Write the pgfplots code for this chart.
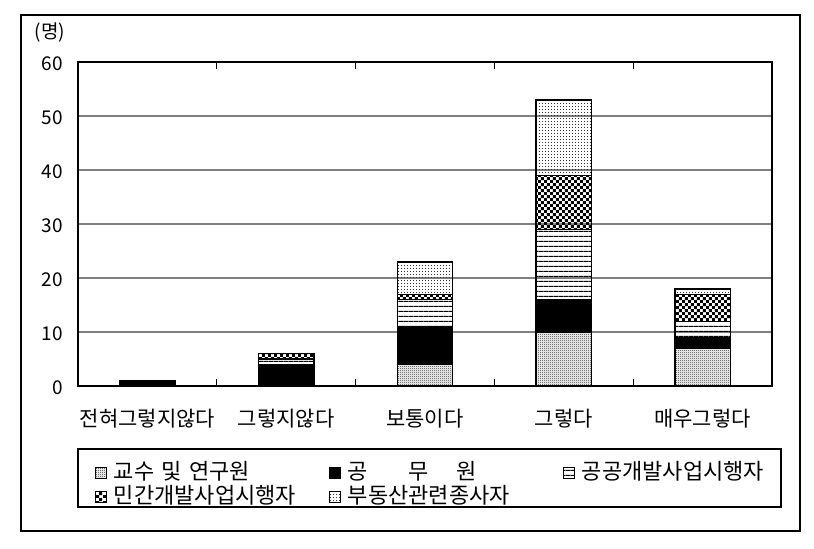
\documentclass[border=0pt]{standalone}
\usepackage{fontspec}
\setmainfont{Noto Sans CJK KR}
\usepackage{pgfplots}
\pgfplotsset{compat=1.18}
\usetikzlibrary{patterns}
\pgfdeclarepatternformonly{mygray}{\pgfpointorigin}{\pgfpoint{1pt}{1pt}}{\pgfpoint{1pt}{1pt}}{%
  \pgfpathrectangle{\pgfpointorigin}{\pgfpoint{0.5pt}{0.5pt}}%
  \pgfpathrectangle{\pgfpoint{0.5pt}{0.5pt}}{\pgfpoint{0.5pt}{0.5pt}}%
  \pgfusepath{fill}}
\pgfdeclarepatternformonly{mylines}{\pgfpointorigin}{\pgfpoint{2.6pt}{2.6pt}}{\pgfpoint{2.6pt}{2.6pt}}{%
  \pgfpathrectangle{\pgfpointorigin}{\pgfpoint{2.6pt}{0.7pt}}%
  \pgfusepath{fill}}
\pgfdeclarepatternformonly{mycheck}{\pgfpointorigin}{\pgfpoint{3.2pt}{3.2pt}}{\pgfpoint{3.2pt}{3.2pt}}{%
  \pgfpathrectangle{\pgfpointorigin}{\pgfpoint{1.6pt}{1.6pt}}%
  \pgfpathrectangle{\pgfpoint{1.6pt}{1.6pt}}{\pgfpoint{1.6pt}{1.6pt}}%
  \pgfusepath{fill}}
\pgfdeclarepatternformonly{mydots}{\pgfpointorigin}{\pgfpoint{1.3pt}{1.3pt}}{\pgfpoint{1.3pt}{1.3pt}}{%
  \pgfpathrectangle{\pgfpointorigin}{\pgfpoint{0.5pt}{0.5pt}}%
  \pgfusepath{fill}}
\definecolor{gridgray}{RGB}{128,128,128}
\pgfplotstableread{
x a b c d e
0 0 1 0 0 0
1 0 4 1 1 0
2 4 7 5 1 6
3 10 6 13 10 14
4 7 2 3 5 1
}\datatable
\begin{document}
\begin{tikzpicture}
\useasboundingbox (0,0) rectangle (407pt,274pt);
\draw[line width=0.7pt] (10.5pt,8.5pt) rectangle (400pt,266.5pt);
\node[font=\fontsize{9.5}{11}\selectfont] at (25pt,257.5pt) {(명)};
\begin{axis}[
  at={(39pt,81pt)}, anchor=south west,
  scale only axis, width=347pt, height=162pt,
  ybar stacked, bar width=0.4,
  xmin=-0.5, xmax=4.5, ymin=0, ymax=60,
  xtick={0,1,2,3,4},
  xticklabels={전혀그렇지않다,그렇지않다,보통이다,그렇다,매우그렇다},
  minor xtick={0.5,1.5,2.5,3.5},
  ytick={0,10,20,30,40,50,60},
  major x tick style={draw=none},
  minor x tick style={black, line width=0.6pt},
  minor tick length=3.5pt,
  tick align=inside,
  ytick style={draw=none},
  ymajorgrids, grid style={gridgray, line width=0.7pt},
  axis line style={black, line width=0.6pt},
  /pgf/number format/assume math mode=true,
  yticklabel style={font=\fontsize{9.5}{11}\selectfont, xshift=-4pt, yshift=-1pt},
  xticklabel style={font=\fontsize{10.5}{12}\selectfont, yshift=-8pt},
  legend style={draw=none, fill=none, at={(0.015,-0.218)}, anchor=north west,
    legend columns=3, font=\fontsize{11}{13}\selectfont, row sep=0pt,
    nodes={inner sep=1.5pt, text width=103pt, text height=7.5pt, text depth=1.5pt, align=left},
    /tikz/every odd column/.append style={column sep=2pt},
    /tikz/every even column/.append style={column sep=3pt}},
  legend cell align=left,
  legend image code/.code={\draw[#1, line width=0.5pt] (0pt,-2.75pt) rectangle (5.5pt,2.75pt);},
]
\addplot[draw=black, line width=0.7pt, pattern=mygray, pattern color=black!85] table[x=x,y=a]{\datatable};
\addplot[draw=black, line width=0.7pt, fill=black] table[x=x,y=b]{\datatable};
\addplot[draw=black, line width=0.7pt, pattern=mylines, pattern color=black] table[x=x,y=c]{\datatable};
\addplot[draw=black, line width=0.7pt, pattern=mycheck, pattern color=black] table[x=x,y=d]{\datatable};
\addplot[draw=black, line width=0.7pt, pattern=mydots, pattern color=black!80] table[x=x,y=e]{\datatable};
\legend{교수 및 연구원, 공\hspace{20pt}무\hspace{14pt}원, 공공개발사업시행자, 민간개발사업시행자, 부동산관련종사자}
\end{axis}
\draw[line width=0.7pt] (39pt,20.5pt) rectangle (390.5pt,49.5pt);
\end{tikzpicture}
\end{document}
